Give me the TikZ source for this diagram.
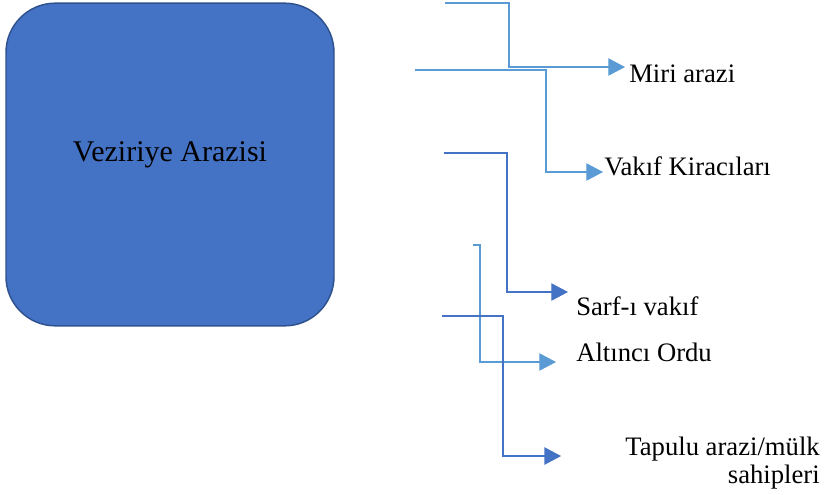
\documentclass[tikz,border=0pt]{standalone}
\usepackage{fontspec}
\setmainfont{Liberation Serif}
\usetikzlibrary{arrows.meta}
\definecolor{boxblue}{HTML}{4472C4}
\definecolor{boxedge}{HTML}{2F528F}
\definecolor{lightblue}{HTML}{5B9BD5}
\definecolor{darkblue}{HTML}{4472C4}
\tikzset{
	arazibox/.style={draw=boxedge,fill=boxblue,line width=1.1pt,rounded corners=37pt,minimum width=246pt,minimum height=242pt},
	boxtext/.style={font=\fontsize{22.5}{24}\selectfont,inner sep=0pt},
	lbl/.style={font=\fontsize{20}{21}\selectfont,inner sep=0pt},
	lightline/.style={lightblue,line width=0.9pt,-{Triangle[length=12.5pt,width=13pt]}},
	darkline/.style={darkblue,line width=0.9pt,-{Triangle[length=12.5pt,width=13pt]}}
}
\begin{document}
\begin{tikzpicture}[x=0.75pt,y=-0.75pt]
	\useasboundingbox (0,0) rectangle (827,494);
	\node[arazibox] (veziriye) at (170,164.5) {};
	\node[boxtext,anchor=base] (vtext) at ([yshift=2.6pt]veziriye.center) {Veziriye Arazisi};
	% labels
	\node[lbl,anchor=base west] (miri) at (629,82) {Miri arazi};
	\node[lbl,anchor=base west] (vakif) at (604,175) {Vakıf Kiracıları};
	\node[lbl,anchor=base west] (sarf) at (576,315) {Sarf-ı vakıf};
	\node[lbl,anchor=base west] (altinci) at (576,361) {Altıncı Ordu};
	\node[lbl,anchor=north east,align=right] (tapulu) at (820,437) {Tapulu arazi/mülk\\sahipleri};
	% free ends
	\coordinate (s1) at (445,3);
	\coordinate (s2) at (415,70);
	\coordinate (s3) at (444,153);
	\coordinate (s4) at (473,245);
	\coordinate (s5) at (442,316);
	\draw[lightline] (s1) -- ++(64,0) |- ([xshift=-3pt,yshift=11.25pt]miri.base west);
	\draw[lightline] (s2) -- ++(131,0) |- ([xshift=-0.75pt,yshift=2.25pt]vakif.base west);
	\draw[darkline] (s3) -- ++(63,0) |- ([xshift=-6pt,yshift=17.25pt]sarf.base west);
	\draw[lightline] (s4) -- ++(7,0) |- ([xshift=-15pt,yshift=-0.75pt]altinci.base west);
	\draw[darkline] (s5) -- ++(61,0) |- ([xshift=-48pt,yshift=-14.25pt]tapulu.north west);
\end{tikzpicture}
\end{document}
